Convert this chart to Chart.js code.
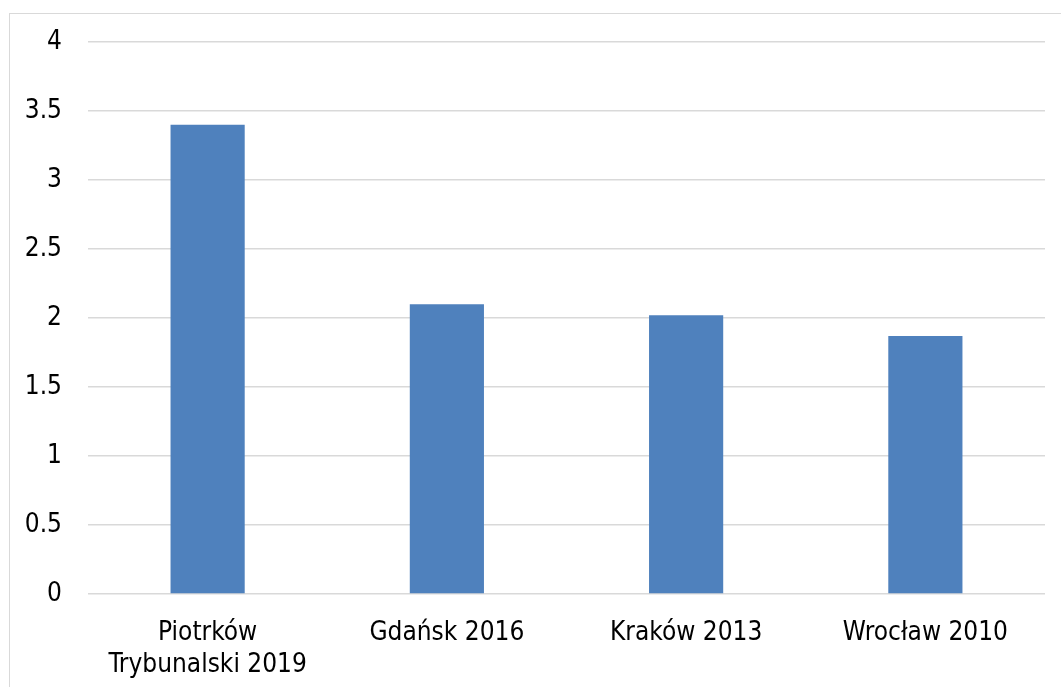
<!DOCTYPE html>
<html>
<head>
<meta charset="utf-8">
<script src="https://cdn.jsdelivr.net/npm/chart.js@4"></script>
<style>
    html, body { margin: 0; padding: 0; background: #fff; overflow: hidden; }
    #frame {
        position: absolute; left: 9px; top: 13px;
        width: 1100px; height: 700px;
        border: 1px solid #d9d9d9;
    }
    #chart { position: absolute; left: 0; top: 0; }
</style>
</head>
<body>
<div id="frame"></div>
<canvas id="chart" width="1061" height="687"></canvas>
<script>
    const categories = [['Piotrków', 'Trybunalski 2019'], 'Gdańsk 2016', 'Kraków 2013', 'Wrocław 2010'];
    const values = [3.4, 2.1, 2.02, 1.87];
    const yTicks = [0, 0.5, 1, 1.5, 2, 2.5, 3, 3.5, 4];

    const labelFont = { family: 'DejaVu Sans Condensed', size: 26 };

    const ctx = document.getElementById('chart').getContext('2d');
    new Chart(ctx, {
        type: 'bar',
        data: {
            labels: categories,
            datasets: [{
                data: values,
                backgroundColor: '#4f81bd',
                borderWidth: 0,
                barPercentage: 1,
                categoryPercentage: 0.31
            }]
        },
        options: {
            responsive: false,
            animation: false,
            layout: { padding: { left: 0, top: 42, right: 16, bottom: 0 } },
            plugins: { legend: { display: false }, tooltip: { enabled: false } },
            scales: {
                x: {
                    grid: { display: false },
                    border: { display: false },
                    ticks: { color: '#000', font: labelFont, padding: 16, maxRotation: 0, autoSkip: false },
                    afterFit: function (scale) { scale.height = 93; }
                },
                y: {
                    min: 0,
                    max: 4,
                    afterBuildTicks: function (scale) {
                        scale.ticks = yTicks.map(v => ({ value: v }));
                    },
                    grid: { color: '#d9d9d9', lineWidth: 1.5, drawTicks: false },
                    border: { display: false },
                    ticks: {
                        color: '#000', font: labelFont, padding: 26,
                        callback: function (value) { return String(value); }
                    },
                    afterFit: function (scale) { scale.width = 88; }
                }
            }
        }
    });
</script>
</body>
</html>
